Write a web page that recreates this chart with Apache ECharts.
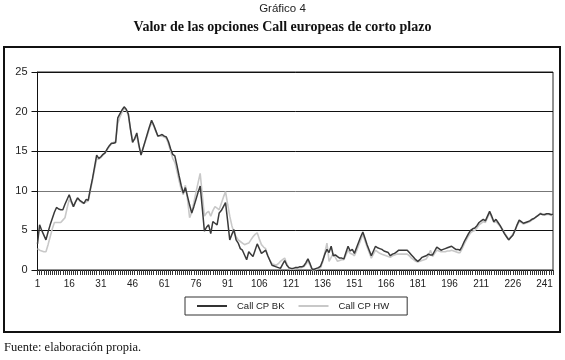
<!DOCTYPE html>
<html>
<head>
<meta charset="utf-8">
<script src="https://cdn.jsdelivr.net/npm/echarts@6/dist/echarts.min.js"></script>
<style>html,body{margin:0;padding:0;background:#fff;}#c{width:565px;height:360px;}</style>
</head>
<body>
<div id="c"></div>
<script>
var chartNumber = 'Gráfico 4';
var chartTitle = 'Valor de las opciones Call europeas de corto plazo';
var sourceNote = 'Fuente: elaboración propia.';
var seriesNames = ['Call CP BK', 'Call CP HW'];
var yTicks = [0, 5, 10, 15, 20, 25];

var callBK = [
3.3, 5.7, 5.0, 4.4, 3.8, 4.8, 5.7, 6.5, 7.3, 7.9,
7.7, 7.6, 7.6, 8.3, 8.9, 9.5, 8.7, 8.0, 8.6, 9.1,
8.8, 8.6, 8.4, 8.9, 8.8, 10.2, 11.5, 13.0, 14.5, 14.1,
14.3, 14.6, 14.8, 15.3, 15.7, 16.0, 16.0, 16.1, 19.2, 19.7,
20.2, 20.6, 20.3, 19.7, 17.8, 16.1, 16.6, 17.3, 15.8, 14.5,
15.4, 16.3, 17.2, 18.1, 18.9, 18.3, 17.6, 16.9, 17.0, 17.1,
16.9, 16.8, 16.2, 15.3, 14.6, 14.4, 13.2, 11.9, 10.7, 9.7,
10.4, 9.3, 8.2, 7.2, 8.0, 8.9, 9.8, 10.6, 7.8, 4.9,
5.4, 5.7, 4.6, 6.1, 5.9, 5.7, 7.2, 7.5, 8.0, 8.5,
6.2, 3.8, 4.5, 5.1, 3.8, 3.4, 2.7, 2.5, 1.9, 1.3,
2.3, 2.0, 1.7, 2.5, 3.3, 2.7, 2.1, 2.3, 2.5, 1.8,
1.2, 0.6, 0.5, 0.4, 0.3, 0.2, 0.7, 1.2, 0.6, 0.3,
0.2, 0.2, 0.3, 0.3, 0.4, 0.4, 0.5, 0.9, 1.4, 0.8,
0.1, 0.1, 0.2, 0.3, 0.5, 1.2, 2.0, 2.6, 2.2, 3.0,
1.8, 1.9, 1.7, 1.5, 1.5, 1.4, 2.2, 3.0, 2.4, 2.6,
2.1, 2.8, 3.5, 4.2, 4.8, 4.0, 3.2, 2.5, 1.8, 2.4,
3.0, 2.8, 2.7, 2.6, 2.4, 2.3, 2.2, 1.8, 2.0, 2.1,
2.3, 2.5, 2.5, 2.5, 2.5, 2.5, 2.2, 1.9, 1.6, 1.3,
1.1, 1.3, 1.6, 1.7, 1.8, 2.0, 1.9, 1.9, 2.4, 2.9,
2.7, 2.5, 2.6, 2.7, 2.8, 2.9, 3.0, 2.8, 2.6, 2.6,
2.5, 3.0, 3.6, 4.1, 4.6, 5.0, 5.2, 5.3, 5.6, 6.0,
6.2, 6.4, 6.2, 6.8, 7.4, 6.8, 6.1, 6.4, 6.0, 5.6,
5.1, 4.6, 4.2, 3.8, 4.1, 4.4, 5.0, 5.7, 6.3, 6.1,
5.9, 6.0, 6.1, 6.2, 6.4, 6.5, 6.7, 6.9, 7.1, 7.0,
7.0, 7.1, 7.1, 7.0, 7.0
];

var callHW = [
2.7, 2.5, 2.4, 2.3, 2.3, 3.2, 4.2, 5.2, 6.0, 6.0,
6.0, 6.0, 6.3, 6.6, 7.8, 8.9, 8.5, 8.0, 8.6, 9.1,
8.7, 8.5, 8.4, 8.6, 8.7, 10.0, 11.3, 12.7, 14.0, 14.0,
14.2, 14.5, 14.8, 15.2, 15.6, 15.9, 16.1, 16.3, 18.5, 19.3,
19.9, 20.4, 20.2, 19.5, 17.8, 16.4, 16.5, 17.0, 15.6, 14.6,
15.4, 16.2, 17.0, 17.9, 18.6, 18.2, 17.5, 16.9, 16.9, 16.9,
16.8, 16.6, 15.9, 15.0, 14.1, 13.6, 12.5, 11.3, 10.2, 9.5,
10.7, 8.9, 6.6, 7.3, 8.5, 9.8, 11.0, 12.2, 9.5, 6.8,
7.2, 7.4, 6.8, 7.5, 8.0, 7.8, 7.6, 8.4, 9.2, 9.9,
8.3, 6.8, 5.6, 4.7, 4.2, 3.8, 3.6, 3.4, 3.2, 3.3,
3.4, 3.8, 4.2, 4.5, 4.7, 3.9, 3.2, 2.9, 2.7, 1.8,
1.2, 0.8, 0.7, 0.6, 0.8, 1.1, 1.3, 1.5, 0.8, 0.2,
0.1, 0.1, 0.2, 0.2, 0.3, 0.3, 0.4, 0.7, 1.1, 0.6,
0.0, 0.0, 0.1, 0.2, 0.3, 1.0, 2.2, 3.4, 1.1, 1.6,
2.1, 1.6, 1.1, 1.2, 1.3, 1.3, 1.9, 2.5, 2.1, 2.0,
1.8, 2.4, 3.1, 3.8, 4.5, 3.7, 2.9, 2.2, 1.5, 2.0,
2.5, 2.3, 2.1, 2.0, 1.9, 1.8, 1.7, 1.6, 1.8, 1.9,
2.0, 2.0, 2.0, 2.0, 2.0, 2.0, 1.8, 1.5, 1.3, 1.1,
1.0, 1.1, 1.2, 1.3, 1.4, 1.8, 2.5, 1.7, 2.1, 2.5,
2.4, 2.3, 2.3, 2.3, 2.4, 2.4, 2.5, 2.4, 2.3, 2.2,
2.2, 2.7, 3.3, 3.8, 4.3, 4.7, 4.9, 5.0, 5.3, 5.7,
5.9, 6.1, 6.0, 6.6, 7.2, 6.6, 6.0, 6.1, 5.8, 5.5,
5.2, 4.7, 4.3, 3.9, 4.2, 4.5, 5.0, 5.6, 6.1, 6.0,
5.8, 5.9, 6.0, 6.1, 6.3, 6.5, 6.7, 6.9, 7.2, 7.0,
6.9, 7.0, 7.0, 6.9, 6.9
];

var categories = callBK.map(function (_, i) { return String(i + 1); });

var chart = echarts.init(document.getElementById('c'), null, {renderer: 'canvas'});
var option = {
  animation: false,
  backgroundColor: '#fff',
  grid: {left: 37.5, right: 12, top: 72, bottom: 90, show: true, borderColor: '#222', borderWidth: 1, backgroundColor: 'transparent'},
  graphic: [
    {type: 'rect', shape: {x: 4, y: 47, width: 556, height: 285}, style: {fill: 'none', stroke: '#111', lineWidth: 2}, z: 0, silent: true},
    {type: 'text', left: 'center', top: 3, style: {text: chartNumber, font: '11.5px "Liberation Sans", Arial, sans-serif', fill: '#222'}},
    {type: 'text', left: 'center', top: 20, style: {text: chartTitle, font: 'bold 14px "Liberation Serif", "Times New Roman", serif', fill: '#111'}},
    {type: 'text', left: 4, top: 341, style: {text: sourceNote, font: '12.5px "Liberation Serif", "Times New Roman", serif', fill: '#111'}}
  ],
  legend: {
    left: 185, top: 297,
    padding: [4, 18, 4, 12],
    borderColor: '#333', borderWidth: 1, backgroundColor: '#fff',
    itemWidth: 30, itemHeight: 2, itemGap: 14,
    icon: 'rect',
    textStyle: {fontFamily: '"Liberation Sans", Arial, sans-serif', fontSize: 9.5, color: '#222', padding: [0, 0, 0, 5]},
    data: [
      {name: seriesNames[0], itemStyle: {color: '#333'}},
      {name: seriesNames[1], itemStyle: {color: '#c8c8c8'}}
    ]
  },
  xAxis: {
    type: 'category',
    data: categories,
    boundaryGap: false,
    axisLine: {show: true, lineStyle: {color: '#111', width: 1}},
    axisTick: {show: true, interval: 0, length: 5, lineStyle: {color: '#333', width: 1}},
    axisLabel: {interval: 14, color: '#222', fontSize: 10, fontFamily: '"Liberation Sans", Arial, sans-serif', margin: 9},
    splitLine: {show: false}
  },
  yAxis: {
    type: 'value',
    min: yTicks[0], max: yTicks[yTicks.length - 1], interval: 5,
    axisLine: {show: true, lineStyle: {color: '#111', width: 1}},
    axisTick: {show: true, length: 6, lineStyle: {color: '#111'}},
    axisLabel: {color: '#222', fontSize: 11, fontFamily: '"Liberation Sans", Arial, sans-serif', margin: 10},
    splitLine: {show: true, lineStyle: {color: ['#111', '#111', '#777', '#111', '#111', '#111'], width: 1}}
  },
  series: [
    {name: seriesNames[1], type: 'line', data: callHW, symbol: 'none', z: 2, lineStyle: {color: '#c8c8c8', width: 1.6}, itemStyle: {color: '#c8c8c8'}},
    {name: seriesNames[0], type: 'line', data: callBK, symbol: 'none', z: 3, lineStyle: {color: '#3a3a3a', width: 1.5}, itemStyle: {color: '#3a3a3a'}}
  ]
};
chart.setOption(option);
</script>
</body>
</html>
